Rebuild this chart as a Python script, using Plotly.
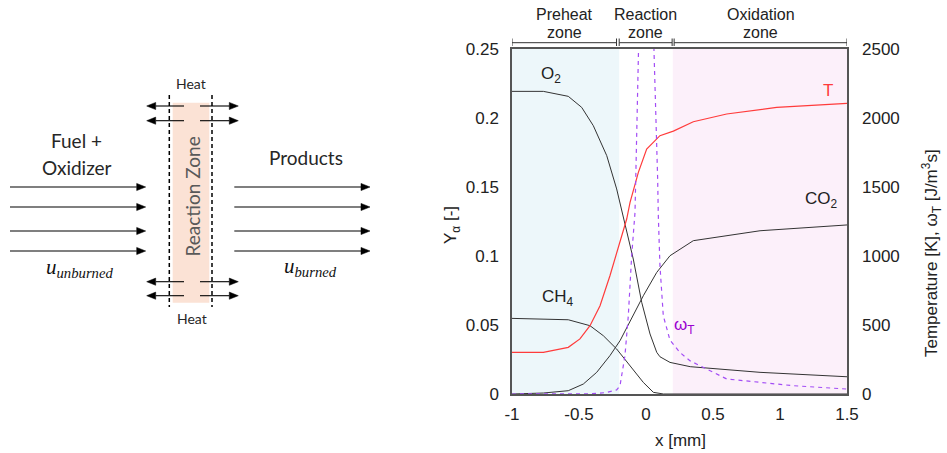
import plotly.graph_objects as go

# ---- 1-D premixed methane flame profiles ----
# mass fractions (left axis)
x_o2 = [-1, -0.766, -0.58, -0.48, -0.393, -0.293, -0.219, -0.157, -0.095, -0.032, 0.03, 0.08, 0.104, 0.179, 0.33, 0.851, 1.5]
y_o2 = [0.2193, 0.2193, 0.2157, 0.2077, 0.1944, 0.1727, 0.1486, 0.122, 0.0978, 0.0664, 0.0435, 0.0302, 0.027, 0.0229, 0.0198, 0.0157, 0.0125]

x_co2 = [-1, -0.766, -0.58, -0.468, -0.368, -0.269, -0.194, -0.095, -0.02, 0.08, 0.179, 0.353, 0.851, 1.5]
y_co2 = [0, 0.0007, 0.0024, 0.0072, 0.0157, 0.0278, 0.0386, 0.0567, 0.0712, 0.0881, 0.1002, 0.1111, 0.1183, 0.1225]

x_ch4 = [-1, -0.58, -0.418, -0.318, -0.219, -0.119, -0.02, 0.055, 0.13, 1.5]
y_ch4 = [0.0548, 0.0538, 0.0495, 0.0422, 0.0326, 0.0205, 0.0084, 0.0012, 0, 0]

# temperature [K] and heat release rate (right axis)
x_T = [-1, -0.766, -0.58, -0.493, -0.418, -0.343, -0.269, -0.194, -0.144, -0.119, -0.057, 0.005, 0.067, 0.104, 0.204, 0.353, 0.602, 0.975, 1.5]
T = [302, 302, 338, 399, 495, 640, 857, 1099, 1268, 1389, 1606, 1775, 1836, 1872, 1905, 1973, 2029, 2077, 2106]

x_w = [-1, -0.4, -0.3, -0.219, -0.194, -0.157, -0.132, -0.107, -0.082, -0.07, -0.057, 0, 0.06, 0.075, 0.087, 0.092, 0.104, 0.129, 0.179, 0.254, 0.33, 0.602, 1.1, 1.5]
w_T = [0, 2, 10, 30, 60, 278, 567, 1000, 1316, 1800, 2283, 5000, 2475, 2041, 1558, 1290, 930, 567, 390, 300, 240, 109, 60, 36]

# flame zones [x start, x end]
zone_names = [["Preheat", "zone"], ["Reaction", "zone"], ["Oxidation", "zone"]]
zone_bounds = [[-1, -0.22], [-0.2, 0.195], [0.21, 1.5]]
zone_fill = ["#EDF7FA", None, "#FCF0FA"]
shade_bounds = [[-1, -0.2], [-0.2, 0.2], [0.2, 1.5]]

x_ticks = [-1, -0.5, 0, 0.5, 1, 1.5]
x_ticktext = ["-1", "-0.5", "0", "0.5", "1", "1.5"]
y_ticks = [0, 0.05, 0.1, 0.15, 0.2, 0.25]
y_ticktext = ["0", "0.05", "0.1", "0.15", "0.2", "0.25"]
t_ticks = [0, 500, 1000, 1500, 2000, 2500]

W, H = 947, 453
PL, PR, PT, PB = 512, 847, 49, 394  # plot-area edges in px

CHART_FONT = "Liberation Sans, Arial, sans-serif"
SKETCH_FONT = "Lato, sans-serif"
BLACK = "#333333"
RED = "#FF3B3B"
PURPLE = "#A34DF5"

fig = go.Figure()

def line(x, y, color, axis="y", width=1.0, dash=None):
    fig.add_trace(go.Scatter(
        x=x, y=y, mode="lines", yaxis=axis, showlegend=False, hoverinfo="skip",
        line=dict(color=color, width=width, dash=dash)))

line(x_o2, y_o2, BLACK)
line(x_co2, y_co2, BLACK)
line(x_ch4, y_ch4, BLACK)
line(x_T, T, RED, axis="y2", width=1.2)
line(x_w, w_T, PURPLE, axis="y2", width=1.2, dash="4px,4px")

shapes = []
annotations = []

# zone shading
for (a, b), c in zip(shade_bounds, zone_fill):
    if c:
        shapes.append(dict(type="rect", xref="x", yref="y", x0=a, x1=b, y0=0, y1=0.25,
                           fillcolor=c, line=dict(width=0), layer="below"))

# zone brackets and titles above the plot
for (a, b), (l1, l2) in zip(zone_bounds, zone_names):
    shapes.append(dict(type="line", xref="x", yref="y3", x0=a, x1=b, y0=42.7, y1=42.7,
                       line=dict(color=BLACK, width=1)))
    for xe in (a, b):
        shapes.append(dict(type="line", xref="x", yref="y3", x0=xe, x1=xe, y0=38.5, y1=46,
                           line=dict(color=BLACK, width=1)))
    xm = (a + b) / 2
    annotations.append(dict(xref="x", yref="y3", x=xm, y=14, text=l1, showarrow=False,
                            font=dict(family=CHART_FONT, size=16, color="#222")))
    annotations.append(dict(xref="x", yref="y3", x=xm, y=32, text=l2, showarrow=False,
                            font=dict(family=CHART_FONT, size=16, color="#222")))

# curve labels
def lab(x, y, text, color="#222"):
    annotations.append(dict(xref="x3", yref="y3", x=x, y=y, text=text, showarrow=False,
                            font=dict(family=CHART_FONT, size=17, color=color)))

lab(551, 75, "O<sub>2</sub>")
lab(828, 90, "T", RED)
lab(821, 200, "CO<sub>2</sub>")
lab(558, 298, "CH<sub>4</sub>")
lab(684, 326, "ω<sub>T</sub>", "#9A00D0")

# axis titles
annotations.append(dict(xref="x3", yref="y3", x=452, y=225, text="Y<sub>α</sub> [-]", showarrow=False,
                        textangle=-90, font=dict(family=CHART_FONT, size=17, color="#222")))
annotations.append(dict(xref="x3", yref="y3", x=931, y=253,
                        text="Temperature [K], ω<sub>T</sub> [J/m<sup>3</sup>s]", showarrow=False,
                        textangle=-90, font=dict(family=CHART_FONT, size=17, color="#222")))
annotations.append(dict(xref="x3", yref="y3", x=680, y=440, text="x [mm]", showarrow=False,
                        font=dict(family=CHART_FONT, size=17, color="#222")))

# ---- flame sketch (pixel coordinates on the hidden x3/y3 axes) ----
shapes.append(dict(type="rect", xref="x3", yref="y3", x0=172.7, x1=209.3, y0=102.7, y1=302.7,
                   fillcolor="#FBE2D5", line=dict(width=0)))
for xd in (169.3, 212):
    shapes.append(dict(type="line", xref="x3", yref="y3", x0=xd, x1=xd, y0=95, y1=307,
                       line=dict(color="black", width=1.5, dash="4px,3px")))

HEAD_L, HEAD_W = 9, 3.6

def arrow(x_tail, x_head, y):
    d = 1 if x_head > x_tail else -1
    base = x_head - d * HEAD_L
    shapes.append(dict(type="line", xref="x3", yref="y3", x0=x_tail, x1=base, y0=y, y1=y,
                       line=dict(color="black", width=1.1)))
    shapes.append(dict(type="path", xref="x3", yref="y3",
                       path=f"M {x_head} {y} L {base} {y - HEAD_W} L {base} {y + HEAD_W} Z",
                       fillcolor="black", line=dict(color="black", width=0.5)))

for yf in (187, 207, 231, 251):
    arrow(10, 145.7, yf)
    arrow(234.3, 370, yf)
for yh in (106, 120.7, 281.7, 295.7):
    arrow(184, 146.7, yh)
    arrow(200, 238.3, yh)

def sketch_text(x, y, text, size, angle=0, family=SKETCH_FONT, color="#262626"):
    annotations.append(dict(xref="x3", yref="y3", x=x, y=y, text=text, showarrow=False,
                            textangle=angle, font=dict(family=family, size=size, color=color)))

sketch_text(76.7, 140, "Fuel +", 19)
sketch_text(76.7, 167, "Oxidizer", 19)
sketch_text(306, 157, "Products", 19)
sketch_text(191.5, 197, "Reaction Zone", 19, angle=-90, color="#595959")
sketch_text(191, 83.5, "Heat", 14)
sketch_text(192.3, 318.5, "Heat", 14)
sketch_text(79, 268, "<i>u</i><sub><i>unburned</i></sub>", 21, family="Liberation Serif, serif", color="#111")
sketch_text(310, 267, "<i>u</i><sub><i>burned</i></sub>", 21, family="Liberation Serif, serif", color="#111")

frame = dict(showline=True, mirror=True, linecolor="#555", linewidth=1.5,
             showgrid=False, zeroline=False, automargin=False, ticks="",
             tickfont=dict(family=CHART_FONT, size=17, color="#222"))

fig.update_layout(
    width=W, height=H,
    margin=dict(l=0, r=0, t=0, b=0),
    paper_bgcolor="white", plot_bgcolor="rgba(0,0,0,0)",
    showlegend=False,
    xaxis=dict(domain=[PL / W, PR / W], range=[-1, 1.5], anchor="y",
               tickvals=x_ticks, ticktext=x_ticktext, ticklabelstandoff=4, **frame),
    yaxis=dict(domain=[1 - PB / H, 1 - PT / H], range=[0, 0.25], anchor="x",
               tickvals=y_ticks, ticktext=y_ticktext, ticklabelstandoff=8, **frame),
    yaxis2=dict(overlaying="y", side="right", anchor="x", range=[0, 2500],
                tickvals=t_ticks, showline=False, showgrid=False, zeroline=False,
                automargin=False, ticks="", ticklabelstandoff=14,
                tickfont=dict(family=CHART_FONT, size=17, color="#222")),
    xaxis3=dict(domain=[0, 1], range=[0, W], anchor="y3", visible=False, fixedrange=True),
    yaxis3=dict(domain=[0, 1], range=[H, 0], anchor="x3", visible=False, fixedrange=True),
    shapes=shapes,
    annotations=annotations,
)

fig.write_html("out.html")
